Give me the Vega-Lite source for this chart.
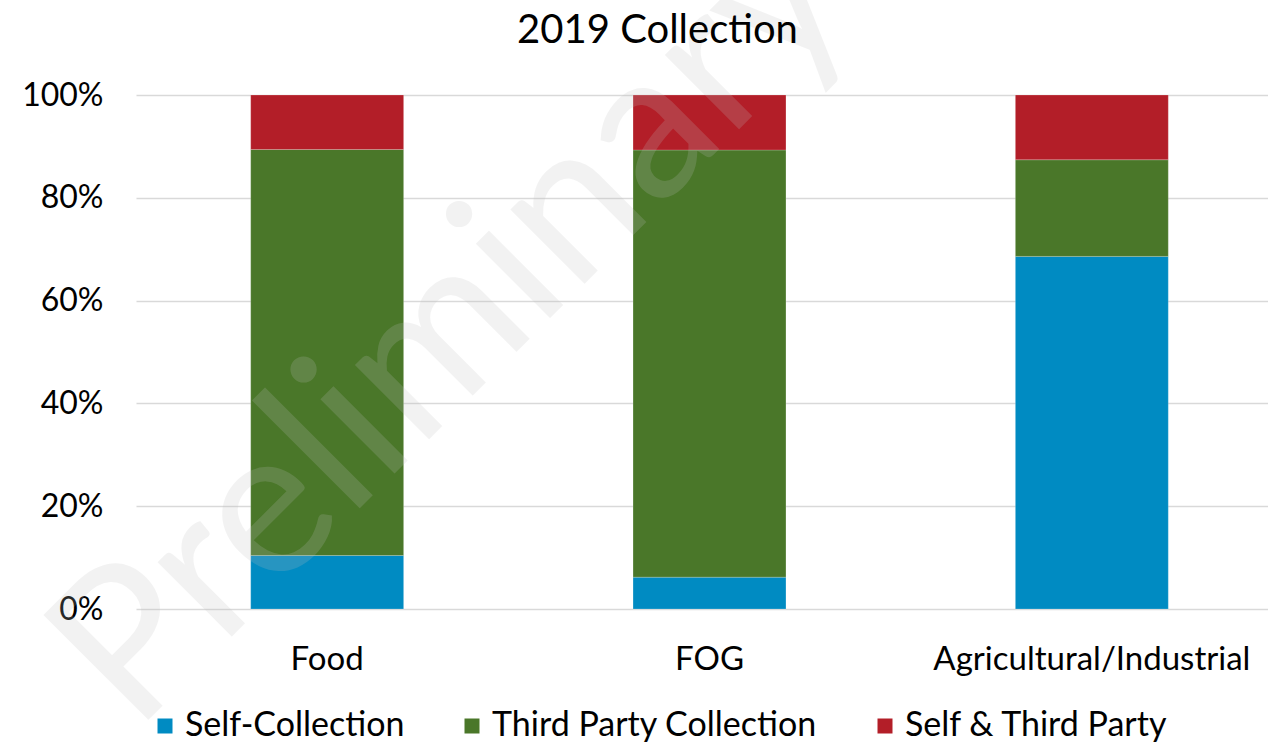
{
  "$schema": "https://vega.github.io/schema/vega-lite/v6.json",
  "autosize": "none",
  "width": 1147,
  "height": 514,
  "padding": {"left": 136, "top": 95, "right": 0, "bottom": 135},
  "background": "white",
  "config": {
    "view": {"stroke": null},
    "font": "Lato"
  },
  "title": {
    "text": "2019 Collection",
    "fontSize": 40,
    "fontWeight": "normal",
    "font": "Lato",
    "color": "#000000",
    "anchor": "middle",
    "frame": "group",
    "baseline": "alphabetic",
    "dx": -52,
    "offset": -190
  },
  "data": {
    "values": [
      {"category": "Food", "type": "Self-Collection", "k": 1, "share": 0.104},
      {"category": "Food", "type": "Third Party Collection", "k": 2, "share": 0.790},
      {"category": "Food", "type": "Self & Third Party", "k": 3, "share": 0.106},
      {"category": "FOG", "type": "Self-Collection", "k": 1, "share": 0.062},
      {"category": "FOG", "type": "Third Party Collection", "k": 2, "share": 0.831},
      {"category": "FOG", "type": "Self & Third Party", "k": 3, "share": 0.107},
      {"category": "Agricultural/Industrial", "type": "Self-Collection", "k": 1, "share": 0.686},
      {"category": "Agricultural/Industrial", "type": "Third Party Collection", "k": 2, "share": 0.188},
      {"category": "Agricultural/Industrial", "type": "Self & Third Party", "k": 3, "share": 0.126}
    ]
  },
  "layer": [
    {
      "mark": {"type": "bar", "stroke": "#ffffff", "strokeWidth": 0.5, "strokeOpacity": 0.4},
      "encoding": {
        "x": {
          "field": "category",
          "type": "nominal",
          "sort": ["Food", "FOG", "Agricultural/Industrial"],
          "scale": {"paddingInner": 0.6, "paddingOuter": 0.3},
          "axis": {
            "title": null,
            "labelAngle": 0,
            "labelFontSize": 33,
            "labelColor": "#000000",
            "labelPadding": 34,
            "labelOverlap": false,
            "labelLimit": 500,
            "ticks": false,
            "domain": false
          }
        },
        "y": {
          "field": "share",
          "type": "quantitative",
          "stack": "zero",
          "scale": {"domain": [0, 1], "nice": false},
          "axis": {
            "title": null,
            "format": ".0%",
            "values": [0, 0.2, 0.4, 0.6, 0.8, 1],
            "labelFontSize": 32,
            "labelColor": "#000000",
            "labelPadding": 33,
            "ticks": false,
            "domain": false,
            "gridColor": "#d9d9d9",
            "gridWidth": 1.5
          }
        },
        "color": {
          "field": "type",
          "type": "nominal",
          "scale": {
            "domain": ["Self-Collection", "Third Party Collection", "Self & Third Party"],
            "range": ["#008bc2", "#4a7729", "#b31e28"]
          },
          "legend": {
            "title": null,
            "orient": "none",
            "direction": "horizontal",
            "legendX": 12,
            "legendY": 614,
            "symbolType": "square",
            "symbolSize": 225,
            "symbolStrokeWidth": 0,
            "labelFontSize": 34,
            "labelColor": "#000000",
            "labelOffset": 3,
            "labelLimit": 500,
            "columnPadding": 50
          }
        },
        "order": {"field": "k", "type": "quantitative"}
      }
    },
    {
      "data": {"values": [{"label": "Preliminary"}]},
      "mark": {
        "type": "text",
        "fontSize": 207,
        "font": "Lato",
        "angle": 315,
        "color": "#c0c0c0",
        "opacity": 0.2,
        "align": "center",
        "baseline": "middle",
        "dx": 177
      },
      "encoding": {
        "text": {"field": "label"},
        "x": {"datum": "Food", "type": "nominal"},
        "y": {"datum": 0.303, "type": "quantitative"}
      }
    }
  ]
}
